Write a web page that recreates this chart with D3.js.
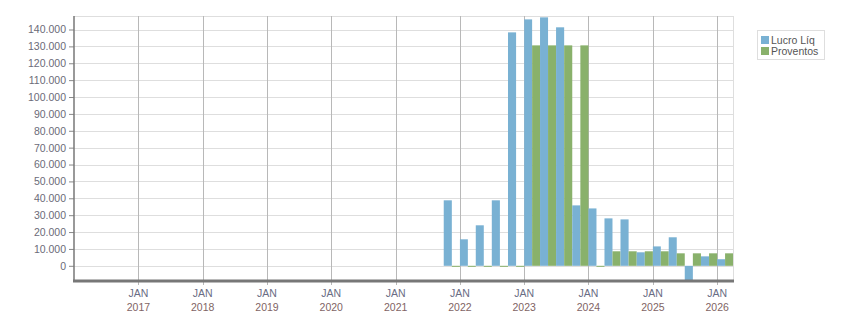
<!DOCTYPE html>
<html>
<head>
<meta charset="utf-8">
<script src="https://cdn.jsdelivr.net/npm/d3@7"></script>
<style>
  body { margin: 0; background: #fff; }
  text { font-family: "Liberation Sans", Arial, sans-serif; font-size: 10.5px; }
</style>
</head>
<body>
<div id="chart"></div>
<script>
// quarterly data, each entry = start of the quarter
const quarters = [
  "2021-10-01", "2022-01-01", "2022-04-01", "2022-07-01", "2022-10-01",
  "2023-01-01", "2023-04-01", "2023-07-01", "2023-10-01",
  "2024-01-01", "2024-04-01", "2024-07-01", "2024-10-01",
  "2025-01-01", "2025-04-01", "2025-07-01", "2025-10-01",
  "2026-01-01"
];
const lucroLiq = [
  38800, 15700, 24000, 38800, 138300,
  146000, 147200, 141300, 35800,
  34000, 28100, 27500, 8000,
  11500, 16900, -8600, 5600,
  3900
];
const proventos = [
  0, 0, 0, 0, 0,
  130600, 130600, 130600, 130600,
  -300, 8600, 8600, 8600,
  8600, 7400, 7400, 7400,
  7400
];
const yTicks = [0, 10000, 20000, 30000, 40000, 50000, 60000, 70000,
  80000, 90000, 100000, 110000, 120000, 130000, 140000];
const years = [2017, 2018, 2019, 2020, 2021, 2022, 2023, 2024, 2025, 2026];
const seriesNames = ["Lucro Líq", "Proventos"];
const colors = ["#79b1d3", "#89b16b"];

const width = 851, height = 313;
const margin = { top: 16, right: 118, bottom: 32, left: 74 };

const svg = d3.select("#chart").append("svg")
  .attr("width", width)
  .attr("height", height);

const parse = d3.timeParse("%Y-%m-%d");
const x = d3.scaleTime()
  .domain([new Date(2016, 0, 1), new Date(2026, 3, 1)])
  .range([margin.left, width - margin.right]);
const y = d3.scaleLinear()
  .domain([-9000, 148000])
  .range([height - margin.bottom, margin.top]);

const x0 = margin.left, x1 = width - margin.right;
const yTop = margin.top, yBot = height - margin.bottom;

// horizontal grid
svg.append("g").selectAll("line")
  .data(yTicks.concat([148000]))
  .join("line")
  .attr("x1", x0).attr("x2", x1)
  .attr("y1", d => Math.round(y(d)) + 0.5).attr("y2", d => Math.round(y(d)) + 0.5)
  .attr("stroke", "#dedede");

// right border
svg.append("line")
  .attr("x1", x1 + 0.5).attr("x2", x1 + 0.5)
  .attr("y1", yTop).attr("y2", yBot)
  .attr("stroke", "#dedede");

// vertical year grid
svg.append("g").selectAll("line")
  .data(years)
  .join("line")
  .attr("x1", d => Math.round(x(new Date(d, 0, 1))) + 0.5)
  .attr("x2", d => Math.round(x(new Date(d, 0, 1))) + 0.5)
  .attr("y1", yTop).attr("y2", yBot + 4)
  .attr("stroke", "#b8b8b8");

// bars
const rows = quarters.map((q, i) => {
  const start = parse(q);
  const end = d3.timeMonth.offset(start, 3);
  return { start, end, vals: [lucroLiq[i], proventos[i]] };
});

const barG = svg.append("g");
rows.forEach(r => {
  const xs = x(r.start), xe = x(r.end);
  const w = (xe - xs) / 2;
  r.vals.forEach((v, k) => {
    const top = Math.min(y(v), y(0));
    const h = Math.max(1, Math.abs(y(v) - y(0)));
    barG.append("rect")
      .attr("x", xs + k * w)
      .attr("y", top)
      .attr("width", w)
      .attr("height", h)
      .attr("fill", colors[k]);
  });
});

// y axis
const yAxis = svg.append("g")
  .attr("transform", `translate(${x0},0)`)
  .call(d3.axisLeft(y).tickValues(yTicks).tickSize(5).tickPadding(3)
    .tickFormat(d => d3.format(",")(d).replace(/,/g, ".")));
yAxis.select(".domain").remove();
yAxis.selectAll(".tick line").attr("stroke", "#888");
yAxis.selectAll("text").attr("fill", "#6b6b78").style("font-size", "10.5px");
svg.append("line")
  .attr("x1", x0).attr("x2", x0)
  .attr("y1", yTop).attr("y2", yBot)
  .attr("stroke", "#777").attr("stroke-width", 1.5);

// x axis
svg.append("line")
  .attr("x1", x0 - 1).attr("x2", x1 + 1)
  .attr("y1", yBot).attr("y2", yBot)
  .attr("stroke", "#777").attr("stroke-width", 3);

const xl = svg.append("g").selectAll("g")
  .data(years)
  .join("g")
  .attr("transform", d => `translate(${x(new Date(d, 0, 1))},0)`);
xl.append("text")
  .attr("y", yBot + 16)
  .attr("text-anchor", "middle")
  .attr("fill", "#6a6d84")
  .text("JAN");
xl.append("text")
  .attr("y", yBot + 30)
  .attr("text-anchor", "middle")
  .attr("fill", "#7f6464")
  .text(d => d);

// legend
const lg = svg.append("g").attr("transform", "translate(757,30)");
lg.append("rect")
  .attr("x", 0.5).attr("y", 0.5)
  .attr("width", 67).attr("height", 29)
  .attr("fill", "#fff").attr("stroke", "#dedede");
seriesNames.forEach((n, i) => {
  lg.append("rect")
    .attr("x", 4).attr("y", 6 + i * 11)
    .attr("width", 8).attr("height", 8)
    .attr("fill", colors[i]);
  lg.append("text")
    .attr("x", 14).attr("y", 13.5 + i * 11)
    .attr("fill", "#555")
    .text(n);
});
</script>
</body>
</html>
